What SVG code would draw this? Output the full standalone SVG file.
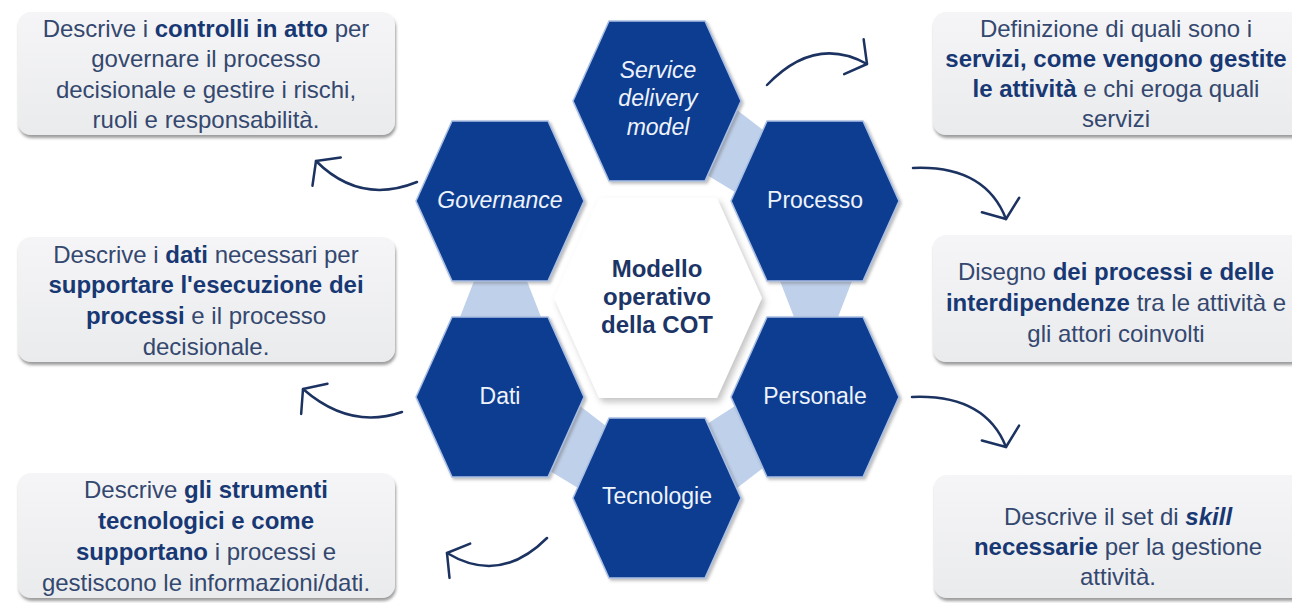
<svg xmlns="http://www.w3.org/2000/svg" xmlns:xlink="http://www.w3.org/1999/xlink" width="1292" height="603" viewBox="0 0 1292 603">
<defs>
<style>
.hex{fill:#103d91;stroke:#a9bfe3;stroke-width:1.5;filter:url(#hsh)}
.patch{fill:#bfd0ea}
.hl{font-family:"Liberation Sans",Arial,sans-serif;font-size:23px;fill:#eef3fb;text-anchor:middle}
.it{font-style:italic}
.ctr{font-family:"Liberation Sans",Arial,sans-serif;font-size:24px;font-weight:bold;fill:#1c3566;text-anchor:middle}
.box{fill:url(#bg);filter:url(#bsh)}
.bt{font-family:"Liberation Sans",Arial,sans-serif;font-size:24px;fill:#34486f;text-anchor:middle}
.b{font-weight:bold;fill:#183873}
.arr{fill:none;stroke:#1c3361;stroke-width:2.5;stroke-linecap:round;marker-end:url(#ah)}
</style>
<linearGradient id="bg" x1="0" y1="0" x2="0" y2="1">
<stop offset="0" stop-color="#f5f5f7"/>
<stop offset="1" stop-color="#eaebed"/>
</linearGradient>
<filter id="hsh" x="-20%" y="-20%" width="140%" height="140%">
<feDropShadow dx="2" dy="2" stdDeviation="1.5" flood-color="#6a6a6a" flood-opacity="0.45"/>
</filter>
<filter id="bsh" x="-10%" y="-10%" width="120%" height="130%">
<feDropShadow dx="1" dy="3" stdDeviation="1.8" flood-color="#5a5a5a" flood-opacity="0.6"/>
</filter>
<filter id="csh" x="-20%" y="-20%" width="140%" height="140%">
<feDropShadow dx="3" dy="4" stdDeviation="3" flood-color="#7a7a7a" flood-opacity="0.45"/>
</filter>
<polygon id="hx" points="-84,0 -48,-80 48,-80 84,0 48,80 -48,80"/>
<marker id="ah" markerWidth="40" markerHeight="50" viewBox="-20 -25 40 50" refX="0" refY="0" orient="auto" markerUnits="userSpaceOnUse">
<path d="M-15,-20 L0,0 L-15,20" fill="none" stroke="#1c3361" stroke-width="2.5" stroke-linecap="round" stroke-linejoin="round"/>
</marker>
</defs>
<rect width="1292" height="603" fill="#ffffff"/>

<g id="links">
<polygon class="patch" points="474,281 527,281 541,317 460,317"/>
<polygon class="patch" points="780,281 852,281 838,317 794,317"/>
<polygon class="patch" points="737,110 763,130 735,192 707,175"/>
<polygon class="patch" points="580,406 606,426 578,488 550,471"/>
<polygon class="patch" points="737,488 763,468 735,406 707,424"/>
</g>

<g id="node-center">
<polygon points="554,298 599,198 717,198 762,298 717,398 599,398" fill="#ffffff" filter="url(#csh)"/>
<text class="ctr" x="657" y="277">Modello</text>
<text class="ctr" x="657" y="305">operativo</text>
<text class="ctr" x="657" y="333">della COT</text>
</g>

<g id="node-sdm">
<use href="#hx" xlink:href="#hx" class="hex" x="657" y="101"/>
<text class="hl it" x="658" y="78">Service</text>
<text class="hl it" x="658" y="106">delivery</text>
<text class="hl it" x="658" y="135">model</text>
</g>
<g id="node-governance">
<use href="#hx" xlink:href="#hx" class="hex" x="500" y="201"/>
<text class="hl it" x="500" y="208">Governance</text>
</g>
<g id="node-processo">
<use href="#hx" xlink:href="#hx" class="hex" x="815" y="201"/>
<text class="hl" x="815" y="208">Processo</text>
</g>
<g id="node-dati">
<use href="#hx" xlink:href="#hx" class="hex" x="500" y="397"/>
<text class="hl" x="500" y="404">Dati</text>
</g>
<g id="node-personale">
<use href="#hx" xlink:href="#hx" class="hex" x="815" y="397"/>
<text class="hl" x="815" y="404">Personale</text>
</g>
<g id="node-tecnologie">
<use href="#hx" xlink:href="#hx" class="hex" x="657" y="498"/>
<text class="hl" x="657" y="504">Tecnologie</text>
</g>

<g id="box-governance">
<rect class="box" x="18" y="12" width="377" height="123" rx="13"/>
<text class="bt" x="206" y="37">Descrive i <tspan class="b">controlli in atto</tspan> per</text>
<text class="bt" x="206" y="67">governare il processo</text>
<text class="bt" x="206" y="98">decisionale e gestire i rischi,</text>
<text class="bt" x="206" y="128">ruoli e responsabilità.</text>
</g>
<g id="box-dati">
<rect class="box" x="18" y="237" width="377" height="125" rx="13"/>
<text class="bt" x="206" y="263">Descrive i <tspan class="b">dati</tspan> necessari per</text>
<text class="bt" x="206" y="293"><tspan class="b">supportare l'esecuzione dei</tspan></text>
<text class="bt" x="206" y="324"><tspan class="b">processi</tspan> e il processo</text>
<text class="bt" x="206" y="355">decisionale.</text>
</g>
<g id="box-tecnologie">
<rect class="box" x="18" y="473" width="377" height="125" rx="13"/>
<text class="bt" x="206" y="498">Descrive <tspan class="b">gli strumenti</tspan></text>
<text class="bt" x="206" y="529"><tspan class="b">tecnologici e come</tspan></text>
<text class="bt" x="206" y="560"><tspan class="b">supportano</tspan> i processi e</text>
<text class="bt" x="206" y="591">gestiscono le informazioni/dati.</text>
</g>
<g id="box-sdm">
<rect class="box" x="933" y="12" width="372" height="123" rx="13"/>
<text class="bt" x="1116" y="37">Definizione di quali sono i</text>
<text class="bt" x="1116" y="67"><tspan class="b">servizi, come vengono gestite</tspan></text>
<text class="bt" x="1116" y="97"><tspan class="b">le attività</tspan> e chi eroga quali</text>
<text class="bt" x="1116" y="127">servizi</text>
</g>
<g id="box-processo">
<rect class="box" x="933" y="235" width="372" height="127" rx="13"/>
<text class="bt" x="1116" y="280">Disegno <tspan class="b">dei processi e delle</tspan></text>
<text class="bt" x="1116" y="311"><tspan class="b">interdipendenze</tspan> tra le attività e</text>
<text class="bt" x="1116" y="342">gli attori coinvolti</text>
</g>
<g id="box-personale">
<rect class="box" x="934" y="475" width="372" height="123" rx="13"/>
<text class="bt" x="1118" y="525">Descrive il set di <tspan class="b it">skill</tspan></text>
<text class="bt" x="1118" y="555"><tspan class="b">necessarie</tspan> per la gestione</text>
<text class="bt" x="1118" y="585">attività.</text>
</g>

<g id="connectors">
<path class="arr" d="M767,85 Q815,35 867,64"/>
<path class="arr" d="M913,168 Q985,165 1006,219"/>
<path class="arr" d="M912,397 Q985,394 1006,447"/>
<path class="arr" d="M417,182 Q360,205 316,161"/>
<path class="arr" d="M402,412 Q350,430 303,389"/>
<path class="arr" d="M547,538 Q500,585 447,553"/>
</g>
</svg>
